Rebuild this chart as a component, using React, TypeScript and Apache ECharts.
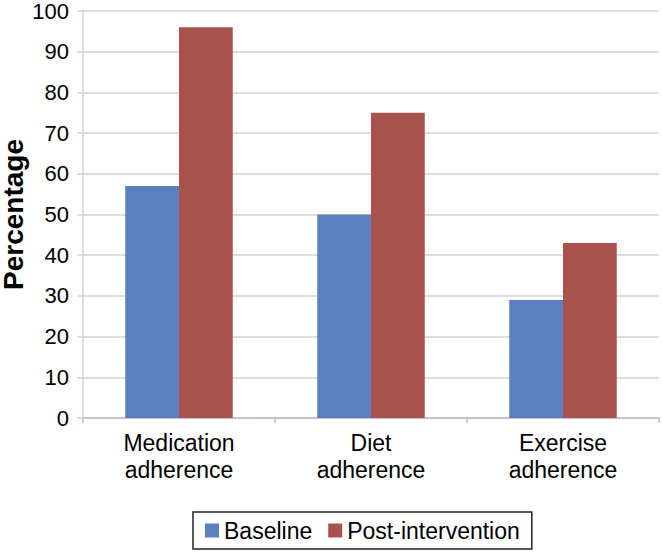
import React, { useEffect, useRef } from "react";
import * as echarts from "echarts";

const categories = ["Medication\nadherence", "Diet\nadherence", "Exercise\nadherence"];
const baseline = [57, 50, 29];
const postIntervention = [96, 75, 43];
const seriesNames = ["Baseline", "Post-intervention"];

const FONT = "'Liberation Sans', Arial, sans-serif";

export default function App() {
  const ref = useRef<HTMLDivElement>(null);
  useEffect(() => {
    if (!ref.current) return;
    const chart = echarts.init(ref.current, null, { renderer: "svg" });
    chart.setOption({
      animation: false,
      backgroundColor: "#ffffff",
      textStyle: { fontFamily: FONT },
      grid: { left: 83, right: 3, top: 11, bottom: 134, containLabel: false, outerBoundsMode: "none" },
      legend: {
        left: 193,
        top: 512,
        itemWidth: 14,
        itemHeight: 14,
        itemGap: 16,
        icon: "rect",
        padding: [7, 12, 7, 12],
        borderColor: "#222",
        borderWidth: 1.5,
        textStyle: { fontSize: 23, color: "#000", fontFamily: FONT },
        data: seriesNames,
      },
      xAxis: {
        type: "category",
        data: categories,
        axisLine: { lineStyle: { color: "#bdbdbd", width: 1.5 } },
        axisTick: { show: true, length: 5, lineStyle: { color: "#bdbdbd", width: 1.5 } },
        axisLabel: {
          fontSize: 23,
          lineHeight: 27,
          color: "#000",
          margin: 11,
          fontFamily: FONT,
          interval: 0,
        },
      },
      yAxis: {
        type: "value",
        min: 0,
        max: 100,
        interval: 10,
        name: "Percentage",
        nameLocation: "middle",
        nameGap: 56,
        nameMoveOverlap: false,
        nameTextStyle: { fontSize: 28, fontWeight: "bold", color: "#000", fontFamily: FONT, lineHeight: 28 },
        axisLine: { show: true, lineStyle: { color: "#d0d0d0", width: 1.5 } },
        axisTick: { show: true, length: 6, lineStyle: { color: "#d0d0d0", width: 1.5 } },
        axisLabel: { fontSize: 22, lineHeight: 18, color: "#000", margin: 14, fontFamily: FONT },
        splitLine: { lineStyle: { color: "#dcdcdc", width: 2 } },
      },
      series: [
        {
          name: seriesNames[0],
          type: "bar",
          data: baseline,
          barGap: "0%",
          barCategoryGap: "44%",
          itemStyle: { color: "#5B80BF" },
        },
        {
          name: seriesNames[1],
          type: "bar",
          data: postIntervention,
          barGap: "0%",
          barCategoryGap: "44%",
          itemStyle: { color: "#A9514C" },
        },
      ],
    });
    return () => chart.dispose();
  }, []);
  return (
    <div
      ref={ref}
      style={{ position: "absolute", left: 0, top: 0, width: 662, height: 552 }}
    />
  );
}
